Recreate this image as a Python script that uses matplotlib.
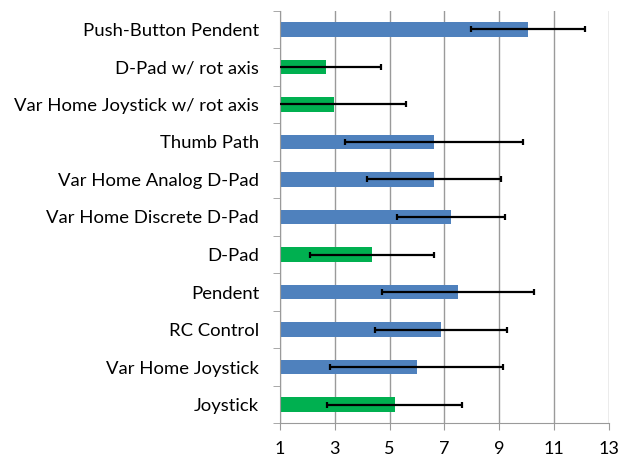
import matplotlib.pyplot as plt
import numpy as np

# Data (bottom to top)
labels = ['Joystick', 'Var Home Joystick', 'RC Control', 'Pendent', 'D-Pad',
          'Var Home Discrete D-Pad', 'Var Home Analog D-Pad', 'Thumb Path',
          'Var Home Joystick w/ rot axis', 'D-Pad w/ rot axis', 'Push-Button Pendent']
values = [5.18, 5.99, 6.87, 7.49, 4.35, 7.25, 6.61, 6.62, 2.98, 2.67, 10.06]
errors = [2.46, 3.15, 2.40, 2.77, 2.26, 1.97, 2.45, 3.25, 2.62, 2.03, 2.08]
groups = ['g', 'b', 'b', 'b', 'g', 'b', 'b', 'b', 'g', 'g', 'b']

BASE = 1
COLORS = {'b': '#4F81BD', 'g': '#00B050'}

plt.rcParams['font.family'] = ['Lato', 'DejaVu Sans']

fig = plt.figure(figsize=(6.19, 4.61), dpi=100)
ax = fig.add_axes([0.4523, 0.0818, 0.5315, 0.895])

y = np.arange(len(labels))
vals = np.array(values)
ax.barh(y, vals - BASE, left=BASE, height=0.38,
        color=[COLORS[g] for g in groups], zorder=2)
ax.errorbar(vals, y, xerr=errors, fmt='none', ecolor='black',
            elinewidth=1.6, capsize=2, capthick=1.6, zorder=3)

ax.set_xlim(1, 13)
ax.set_ylim(-0.5, len(labels) - 0.5)
ax.set_xticks(np.arange(1, 14, 2))
ax.set_yticks(y)
ax.set_yticklabels(labels)
ax.set_yticks(np.arange(-0.5, len(labels), 1), minor=True)

ax.grid(axis='x', color='#9A9A9A', linewidth=1, zorder=0)
for s in ['top', 'right']:
    ax.spines[s].set_visible(False)
for s in ['left', 'bottom']:
    ax.spines[s].set_color('#9A9A9A')

ax.tick_params(axis='y', which='major', length=0, pad=15, labelsize=13.3)
ax.tick_params(axis='y', which='minor', length=5, color='#9A9A9A')
ax.tick_params(axis='x', length=5, color='#9A9A9A', pad=8, labelsize=13)

fig.savefig('out.png', dpi=100)
